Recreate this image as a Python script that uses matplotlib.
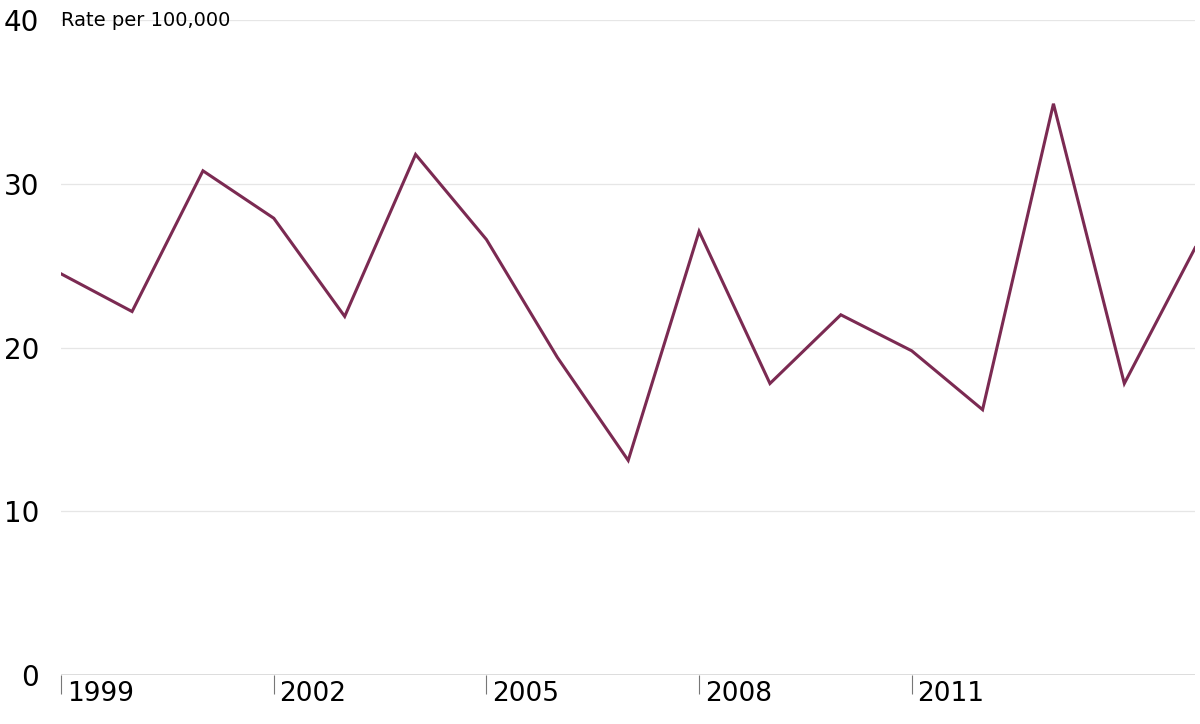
import matplotlib.pyplot as plt

years = list(range(1999, 2016))
rates = [24.5, 22.2, 30.8, 27.9, 21.9, 31.8, 26.6, 19.4, 13.1, 27.1,
         17.8, 22.0, 19.8, 16.2, 34.9, 17.8, 26.1]
y_ticks = [0, 10, 20, 30, 40]
x_ticks = [1999, 2002, 2005, 2008, 2011]

fig = plt.figure(figsize=(12, 7.24), dpi=100)
ax = fig.add_axes([0.051, 0.068, 0.945, 0.904])

ax.plot(years, rates, color='#7b2a52', lw=2.2, solid_joinstyle='miter')
ax.set_xlim(1999, 2015)
ax.set_ylim(0, 40)

for v in y_ticks[1:]:
    ax.axhline(v, color='#e6e6e6', lw=0.9, zorder=0)
ax.axhline(0, color='#555555', lw=1, zorder=1)

ax.set_yticks(y_ticks)
ax.set_yticklabels([str(v) for v in y_ticks], fontsize=20)
ax.tick_params(axis='y', length=0, pad=16)
ax.set_xticks(x_ticks)
ax.set_xticklabels([])
ax.tick_params(axis='x', length=14, color='#777777', width=0.8)
for yr in x_ticks:
    ax.text(yr + 0.08, -0.4, str(yr), fontsize=19, ha='left', va='top',
            transform=ax.transData)

for s in ax.spines.values():
    s.set_visible(False)

ax.text(1999.0, 40, 'Rate per 100,000', fontsize=14, ha='left', va='center')

fig.savefig('out.png', dpi=100)
